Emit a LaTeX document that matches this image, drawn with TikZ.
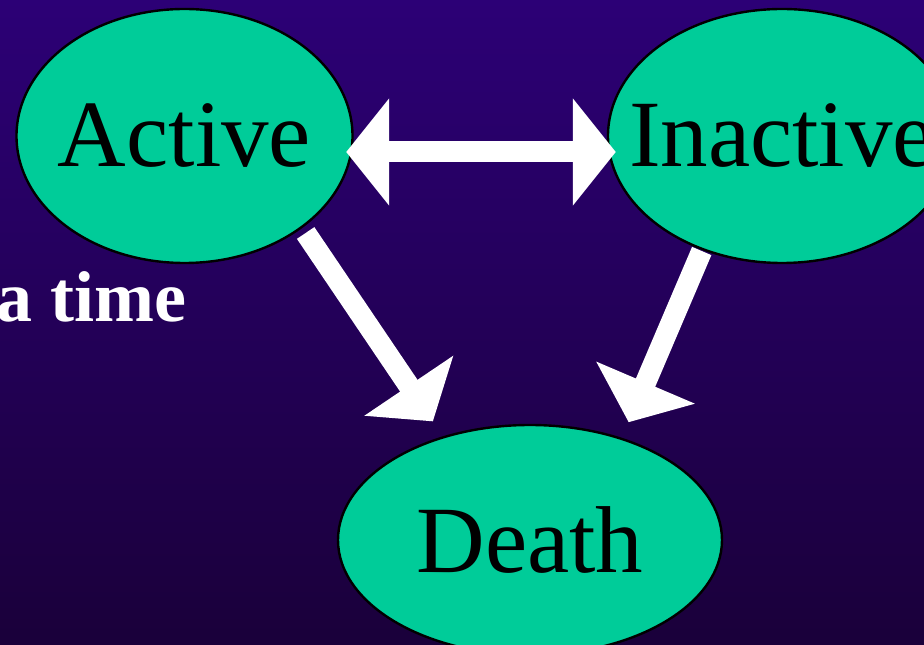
\documentclass[tikz,border=0pt]{standalone}
\usepackage{fontspec}
\setmainfont{Liberation Serif}
\usetikzlibrary{shapes.geometric,arrows.meta}
\definecolor{stategreen}{RGB}{0,204,153}
\definecolor{bgtop}{RGB}{44,0,118}
\definecolor{bgbottom}{RGB}{26,0,58}
\tikzset{x=1pt,y=1pt}

\begin{document}
\begin{tikzpicture}[
  state/.style={ellipse, draw=black, line width=2.4pt, fill=stategreen, inner sep=0pt},
  statetext/.style={font=\fontsize{95}{100}\selectfont, text=black, inner sep=0pt},
  flow/.style={draw=white, line width=21pt, -{Triangle[length=43pt,width=105pt]}},
  twoway/.style={draw=white, line width=21pt, {Triangle[length=43pt,width=105pt]}-{Triangle[length=43pt,width=105pt]}},
]

\useasboundingbox (0,0) rectangle (924,645);
\clip (0,0) rectangle (924,645);
\shade[top color=bgtop, bottom color=bgbottom] (0,0) rectangle (924,645);

% left-hand bullet text, cut off by the slide
\node[anchor=base west, inner sep=0pt, text=white, font=\fontsize{72}{86}\selectfont\bfseries] (bullet) at (-4,323) {a time};

% the three states
\node[state, minimum width=336pt, minimum height=254pt] (active) at (184.5,509) {};
\node[state, minimum width=348pt, minimum height=254pt] (inactive) at (782,509) {};
\node[state, minimum width=384pt, minimum height=230pt] (death) at (530,105) {};

% transitions
\draw[flow, shorten <=6pt, shorten >=18pt] (active.-38) -- (death.130);
\draw[flow, shorten <=1pt, shorten >=17pt] (inactive.235) -- (death.48);
\draw[twoway, shorten <=-7.5pt, shorten >=-9pt] ([yshift=-16pt]active.east) -- ([yshift=-16pt]inactive.west);

\node[statetext] (activelabel) at (active) {Active};
\node[statetext] (inactivelabel) at (inactive) {Inactive};
\node[statetext] (deathlabel) at (death) {Death};

\end{tikzpicture}
\end{document}
